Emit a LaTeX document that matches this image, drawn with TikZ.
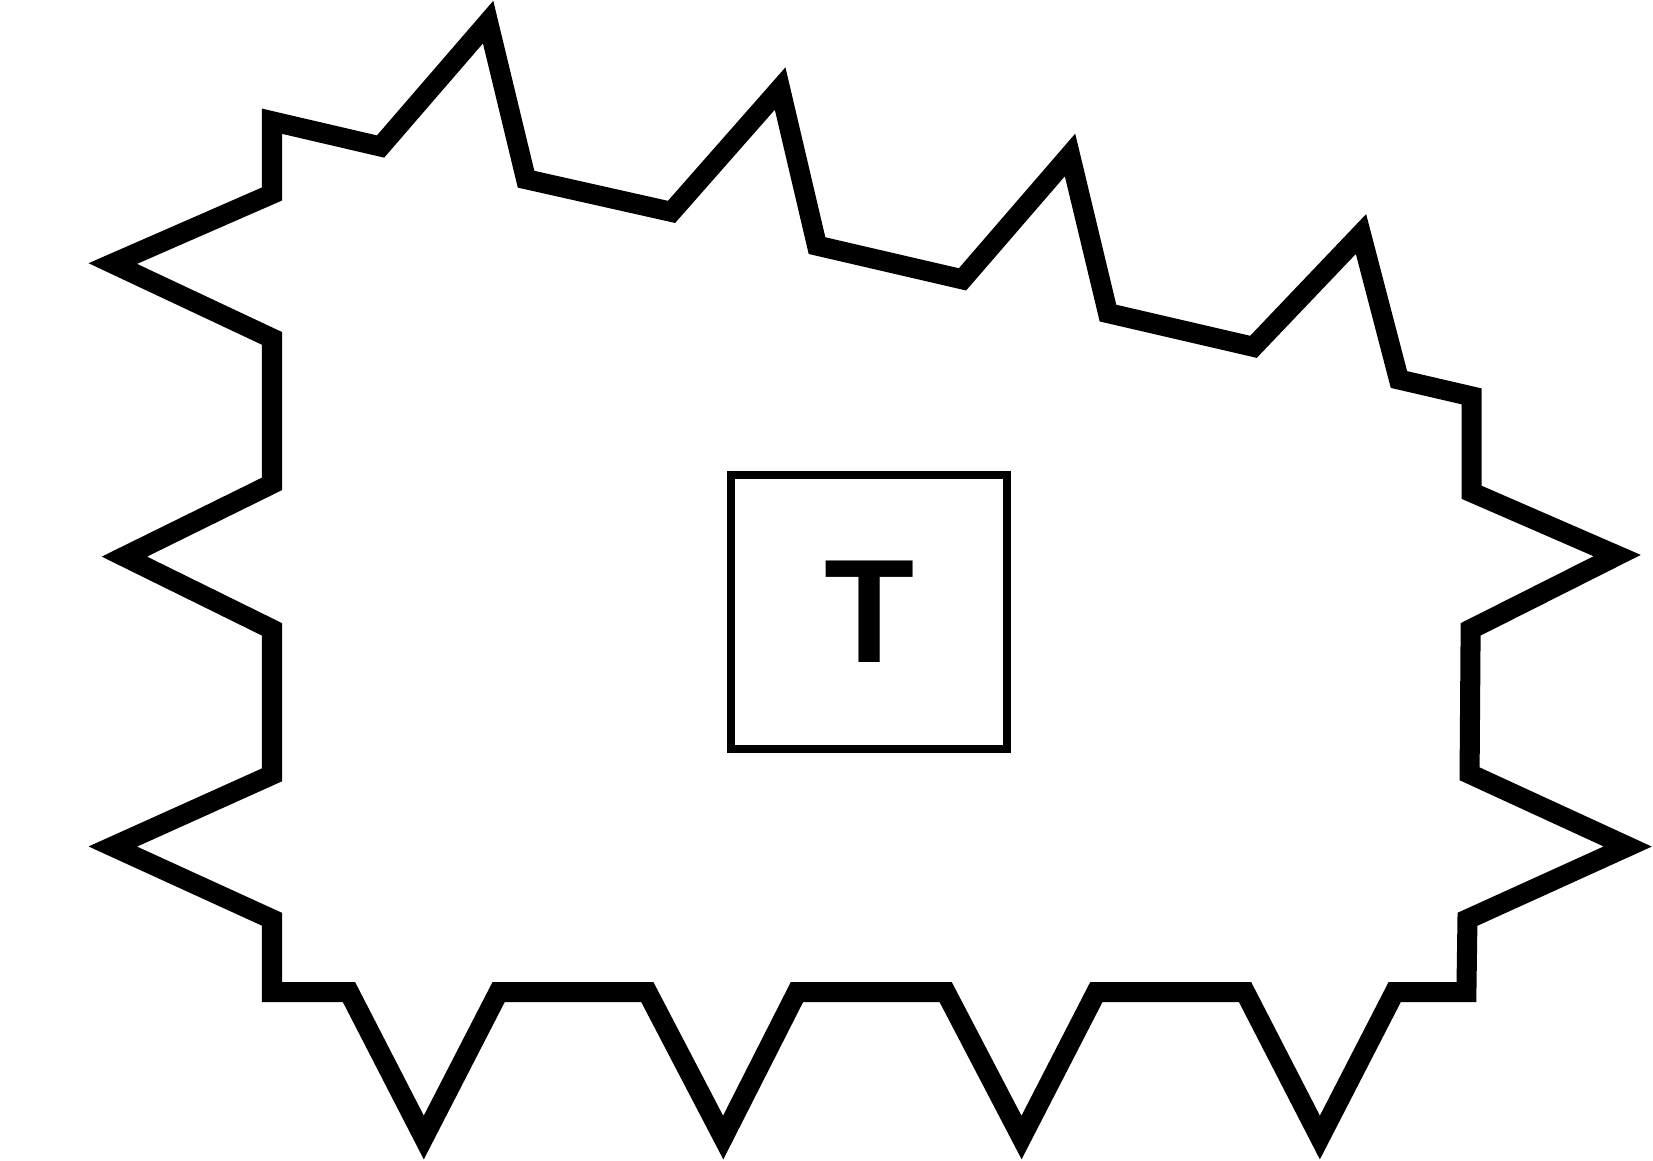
\documentclass[tikz,border=0pt]{standalone}
\usepackage{fontspec}
\setmainfont{Liberation Sans}
\begin{document}
\begin{tikzpicture}[x=0.5pt,y=-0.5pt,
  burst/.style={draw=black,line width=9.5pt,line join=miter,miter limit=10},
  tbox/.style={draw=black,line width=3.75pt,minimum width=131pt,minimum height=130pt,inner sep=0pt,font=\fontsize{70}{84}\selectfont\bfseries}]
\useasboundingbox (0,0) rectangle (1568,1101);
\draw[burst] (258,115) -- (361,139) -- (463,21) -- (499,170) -- (637,201) -- (740,84)
  -- (775,233) -- (913,265) -- (1015,147) -- (1051,297) -- (1189,329) -- (1291,222)
  -- (1327,360) -- (1396,376) -- (1396,467) -- (1534,527) -- (1395,597) -- (1394,734)
  -- (1544,803) -- (1392,872) -- (1391,941) -- (1323,941) -- (1252,1079) -- (1181,941)
  -- (1040,941) -- (969,1079) -- (897,941) -- (756,941) -- (686,1079) -- (614,941)
  -- (473,941) -- (402,1079) -- (331,941) -- (258,941) -- (258,872) -- (107,803)
  -- (258,735) -- (258,597) -- (118,528) -- (258,459) -- (258,321) -- (107,250)
  -- (258,184) -- cycle;
\node[tbox] (label) at (824.5,580.5) {T};
\end{tikzpicture}
\end{document}
